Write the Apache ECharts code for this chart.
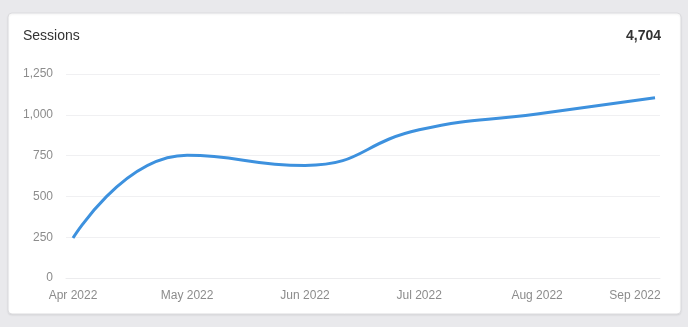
<!DOCTYPE html>
<html>
<head>
<meta charset="utf-8">
<script src="https://cdn.jsdelivr.net/npm/echarts@6/dist/echarts.min.js"></script>
<style>
  html, body { margin: 0; padding: 0; background: #e9e9ec; }
  #chart { width: 688px; height: 327px; }
</style>
</head>
<body>
<div id="chart"></div>
<script>
// Monthly sessions
const months = ['2022-04-01', '2022-05-01', '2022-06-01', '2022-07-01', '2022-08-01', '2022-09-01'];
const monthLabels = ['Apr 2022', 'May 2022', 'Jun 2022', 'Jul 2022', 'Aug 2022', 'Sep 2022'];
const sessions = [245, 752, 690, 908, 1005, 1104];
const yTicks = [0, 250, 500, 750, 1000, 1250];
const totalLabel = '4,704';

// x positions in days since the first month, so months keep their real lengths
const DAY = 86400000;
const startTime = new Date(months[0] + 'T00:00:00Z').getTime();
const monthDays = months.map(m => Math.round((new Date(m + 'T00:00:00Z').getTime() - startTime) / DAY));
const seriesData = monthDays.map((d, i) => [d, sessions[i]]);

const chart = echarts.init(document.getElementById('chart'), null, { renderer: 'canvas' });
const font = '"Liberation Sans", Arial, sans-serif';

chart.setOption({
  animation: false,
  textStyle: { fontFamily: font },
  graphic: [{
    type: 'rect',
    z: -10,
    silent: true,
    shape: { x: 8, y: 13, width: 673, height: 301, r: 4 },
    style: {
      fill: '#ffffff',
      stroke: '#dcdcdf',
      lineWidth: 1,
      shadowBlur: 2,
      shadowColor: 'rgba(0,0,0,0.08)',
      shadowOffsetY: 1
    }
  }],
  title: [{
    text: 'Sessions',
    left: 23,
    top: 29,
    padding: 0,
    textStyle: { fontFamily: font, fontSize: 14, fontWeight: 'normal', color: '#333333' }
  }, {
    text: totalLabel,
    right: 27,
    top: 29,
    padding: 0,
    textStyle: { fontFamily: font, fontSize: 14, fontWeight: 'bold', color: '#333333' }
  }],
  grid: { left: 66, right: 28, top: 74, bottom: 49 },
  xAxis: {
    type: 'value',
    min: monthDays[0] - 1.84,
    max: monthDays[monthDays.length - 1] + 1.31,
    axisLine: { show: true, lineStyle: { color: '#ececee', width: 1 } },
    axisTick: { show: false },
    splitLine: { show: false },
    axisLabel: {
      customValues: monthDays,
      showMinLabel: true,
      showMaxLabel: true,
      margin: 12,
      fontSize: 12,
      color: '#8c8c8c',
      fontFamily: font,
      formatter: function (value) {
        const idx = monthDays.indexOf(Math.round(value));
        if (idx === monthDays.length - 1) return '{last|' + monthLabels[idx] + '}';
        return idx >= 0 ? monthLabels[idx] : '';
      },
      rich: {
        last: { fontSize: 12, color: '#8c8c8c', fontFamily: font, padding: [0, 40, 0, 0] }
      }
    }
  },
  yAxis: {
    type: 'value',
    min: yTicks[0],
    max: yTicks[yTicks.length - 1],
    interval: 250,
    axisLine: { show: false },
    axisTick: { show: false },
    axisLabel: {
      margin: 13,
      fontSize: 12,
      color: '#8c8c8c',
      fontFamily: font,
      formatter: v => v.toLocaleString('en-US')
    },
    splitLine: { lineStyle: { color: '#f0f0f2', width: 1 } }
  },
  series: [{
    type: 'line',
    data: seriesData,
    smooth: 0.5,
    showSymbol: false,
    lineStyle: { color: '#3d91de', width: 3 },
    itemStyle: { color: '#3d91de' }
  }]
});
</script>
</body>
</html>
